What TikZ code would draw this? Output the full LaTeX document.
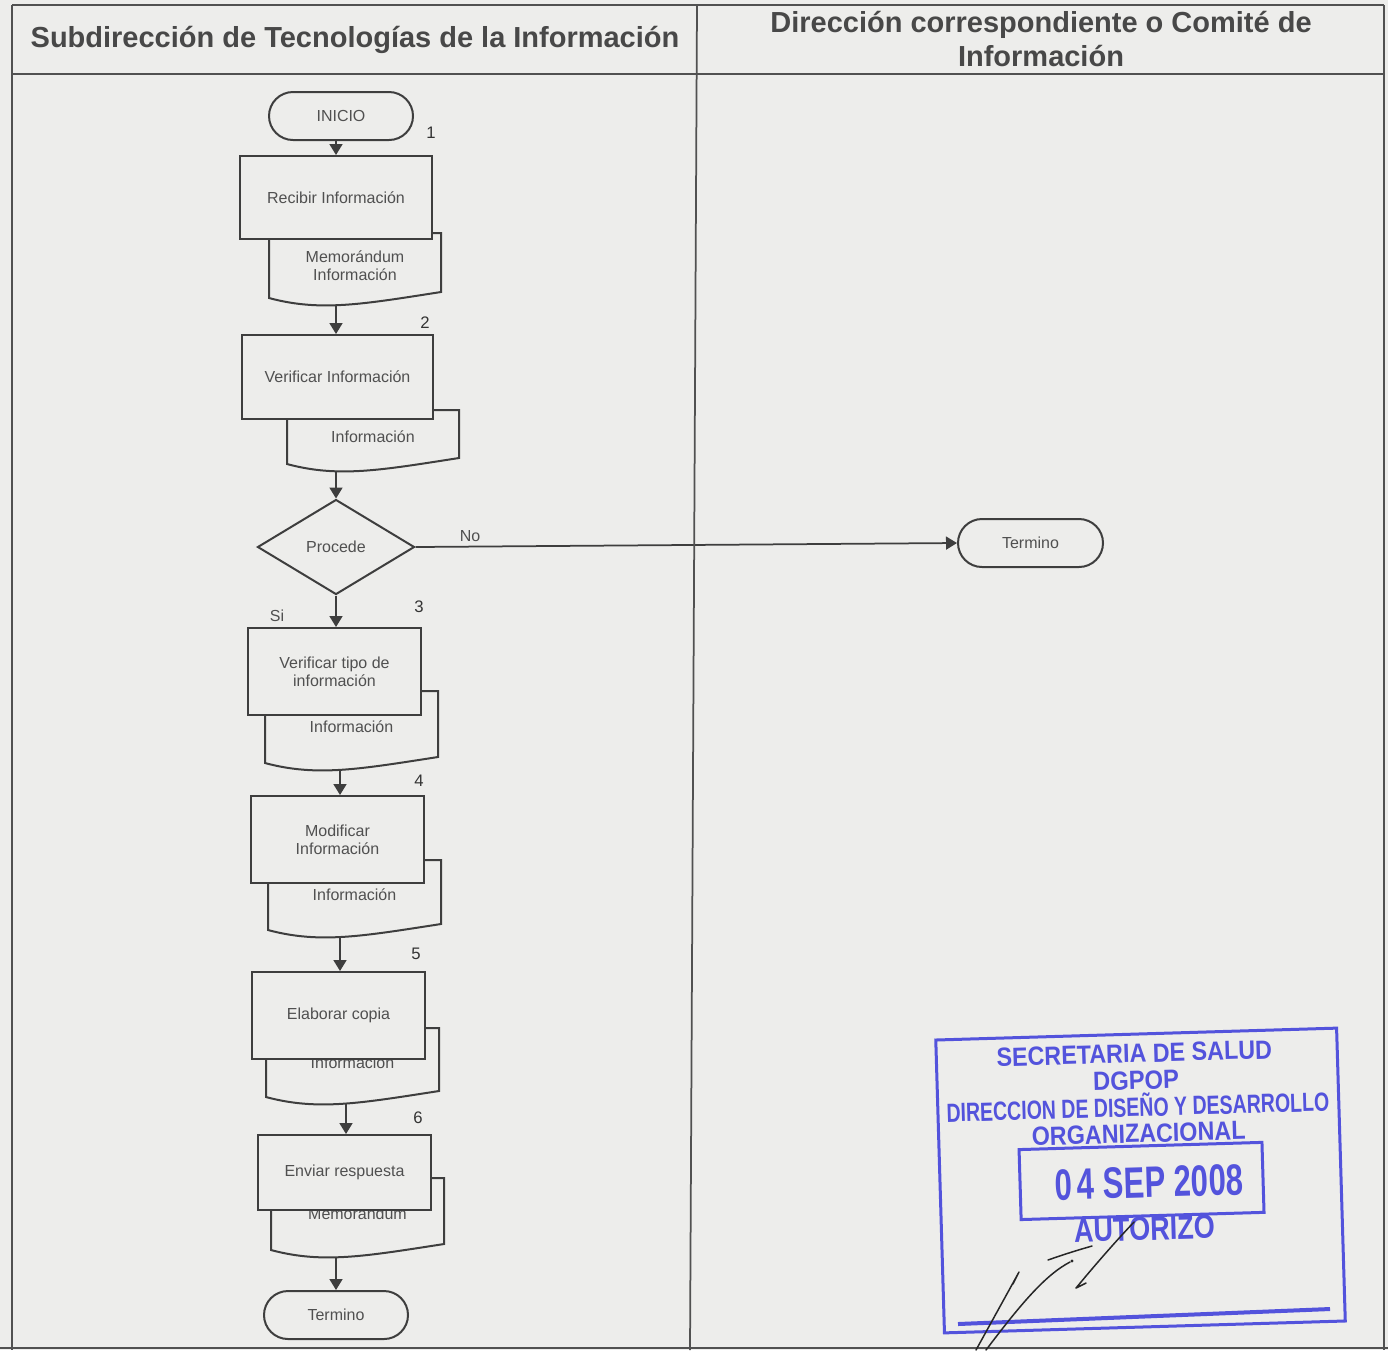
\documentclass[tikz,border=0pt]{standalone}
\usepackage{fontspec}
\setmainfont{Liberation Sans}
\usetikzlibrary{shapes.geometric,arrows.meta,calc}
\pgfdeclarelayer{paper}
\pgfdeclarelayer{behind}
\pgfsetlayers{paper,behind,main}
\definecolor{paper}{HTML}{EDEDEB}
\definecolor{lngray}{HTML}{3E3E3E}
\definecolor{txtgray}{HTML}{505050}
\definecolor{stampblue}{HTML}{5353DC}
\tikzset{
  every node/.style={font=\fontsize{9.1}{10.5}\selectfont, text=txtgray},
  ln/.style={draw=lngray, line width=0.04cm},
  sz/.style 2 args={minimum width=#1*0.02cm, minimum height=#2*0.02cm},
  procbox/.style={ln, fill=paper, rectangle, align=center, inner sep=0pt},
  docbox/.style={rectangle, inner sep=0pt, align=center},
  docshape/.style={ln, fill=paper},
  termbox/.style={ln, fill=paper, rectangle, rounded corners=0.48cm, align=center, inner sep=0pt},
  decbox/.style={ln, fill=paper, diamond, aspect=1.65, inner sep=0pt, align=center},
  arr/.style={draw=lngray, line width=0.035cm, -{Triangle[length=0.22cm,width=0.26cm]}},
  num/.style={font=\fontsize{9.5}{11}\selectfont, text=black!80},
  lane/.style={draw=lngray!90, line width=0.035cm},
  hdr/.style={font=\fontsize{16.5}{19}\bfseries\selectfont, text=txtgray!90!black, align=center},
  stamp/.style={draw=stampblue, line width=0.06cm},
  stxt/.style={text=stampblue, font=\fontsize{15}{17}\bfseries\selectfont, xscale=0.885, inner sep=0pt, text height=10.8pt, text depth=0pt},
  sig/.style={draw=black!85, line width=0.03cm, line cap=round, line join=round},
}
% #1 name, #2 cx, #3 cy, #4 w, #5 h, #6 text
\newcommand\docnode[6]{%
  \path[docshape] (#2-#4/2, #3+#5/2) -- (#2-#4/2, #3-#5/2) -- (#2+#4/2, #3-#5/2) -- (#2+#4/2, #3+#5/2-6)
     .. controls (#2-#4/2+0.55*#4, #3+#5/2+6) and (#2-#4/2+0.3*#4, #3+#5/2+14) .. (#2-#4/2, #3+#5/2) -- cycle;
  \node[docbox, sz={#4}{#5}] (#1) at (#2,#3) {#6};
}
\begin{document}
\begin{tikzpicture}[x=0.02cm, y=-0.02cm]
\useasboundingbox (0,0) rectangle (1388,1350);
\begin{pgfonlayer}{paper}
  \fill[paper] (0,0) rectangle (1388,1350);
\end{pgfonlayer}

% lanes
\draw[lane] (12,5) -- (1384,5);
\draw[lane] (12,74) -- (1384,74);
\draw[lane] (12,5) -- (12,1350);
\draw[lane] (1384,5) -- (1384,1350);
\draw[lane] (697,5) -- (690,1350);
\draw[lane] (0,1348) -- (1388,1348);
\node[hdr] (h1) at (355,40) {Subdirección de Tecnologías de la Información};
\node[hdr] (h2) at (1041,39) {Dirección correspondiente o Comité de\\Información};

% flow
\node[termbox, sz={144}{48}] (ini) at (341,116) {INICIO};
\docnode{d1}{355}{265.5}{172}{65}{Memorándum\\Información}
\node[procbox, sz={192}{83}] (b1) at (336,197.5) {Recibir Información};
\docnode{d2}{373}{437}{172}{54}{Información}
\node[procbox, sz={191}{84}] (b2) at (337.5,377) {Verificar Información};
\node[decbox, sz={157}{95}] (dd) at (336,547) {Procede};
\node[termbox, sz={145}{48}] (tr) at (1030.5,543) {Termino};
\docnode{d3}{351.5}{727}{173}{72}{Información}
\node[procbox, sz={173}{87}] (b3) at (334.5,671.5) {Verificar tipo de\\información};
\docnode{d4}{354.5}{895}{173}{70}{Información}
\node[procbox, sz={173}{87}] (b4) at (337.5,839.5) {Modificar\\Información};
\docnode{d5}{352.5}{1062.5}{173}{69}{Información}
\node[procbox, sz={173}{87}] (b5) at (338.5,1015.5) {Elaborar copia};
\docnode{d6}{357.5}{1214}{173}{72}{Memorándum}
\node[procbox, sz={173}{75}] (b6) at (344.5,1172.5) {Enviar respuesta};
\node[termbox, sz={144}{48}] (te) at (336,1315) {Termino};

% numbers and labels
\node[num] (n1) at (431,133) {1};
\node[num] (n2) at (425,323) {2};
\node[num] (n3) at (419,607) {3};
\node[num] (n4) at (419,781) {4};
\node[num] (n5) at (416,954) {5};
\node[num] (n6) at (418,1118) {6};
\node (lsi) at (277,616) {Si};
\node (lno) at (470,536) {No};

% connectors
\begin{pgfonlayer}{behind}
  \draw[arr] (b1.north |- ini.south) -- (b1.north);
  \draw[arr] (dd.north |- d1.south) -- (b2.north -| dd.north);
  \draw[arr] (dd.north |- d2.south) -- (dd.north);
  \draw[arr] (dd.east) -- (tr.west);
  \draw[arr] (dd.south) -- (dd.south |- b3.north);
  \draw[arr] (340,0 |- d3.south) -- (340,0 |- b4.north);
  \draw[arr] (340,0 |- d4.south) -- (340,0 |- b5.north);
  \draw[arr] (346,0 |- d5.south) -- (346,0 |- b6.north);
  \draw[arr] (te.north |- d6.south) -- (te.north);
\end{pgfonlayer}

% stamp
\begin{scope}[rotate around={1.7:(1140,1180)}, transform shape]
  \draw[stamp] (940,1034) rectangle (1341,1327);
  \draw[stamp] (1020,1146) rectangle (1263,1216);
  \node[stxt] (s1) at (1138,1053) {SECRETARIA DE SALUD};
  \node[stxt, xscale=1.02] (s2) at (1139,1080) {DGPOP};
  \node[stxt, xscale=0.837] (s3) at (1140,1107) {DIRECCION DE DISEÑO Y DESARROLLO};
  \node[stxt] (s4) at (1140,1133) {ORGANIZACIONAL};
  \node[stxt, font=\fontsize{25}{27}\bfseries\selectfont, text height=18pt, xscale=0.80] (s5) at (1149,1182) {0\,4 SEP 2008};
  \node[stxt, font=\fontsize{19}{21}\bfseries\selectfont, text height=14pt, xscale=0.916] (s6) at (1143,1228) {AUTORIZO};
\end{scope}
\draw[stamp, line width=0.08cm] (958,1324) -- (1330,1309);

% signature
\draw[sig] (976,1350) -- (1019,1272) -- (1013,1284);
\draw[sig] (986,1350) .. controls (1020,1305) and (1045,1275) .. (1070,1262);
\draw[sig] (1048,1260) .. controls (1065,1254) and (1078,1250) .. (1092,1246);
\fill[black!85] (1072,1261) circle (1.6);
\draw[sig] (1086,1283) -- (1076,1288) .. controls (1095,1265) and (1115,1242) .. (1134,1222);
\end{tikzpicture}
\end{document}
